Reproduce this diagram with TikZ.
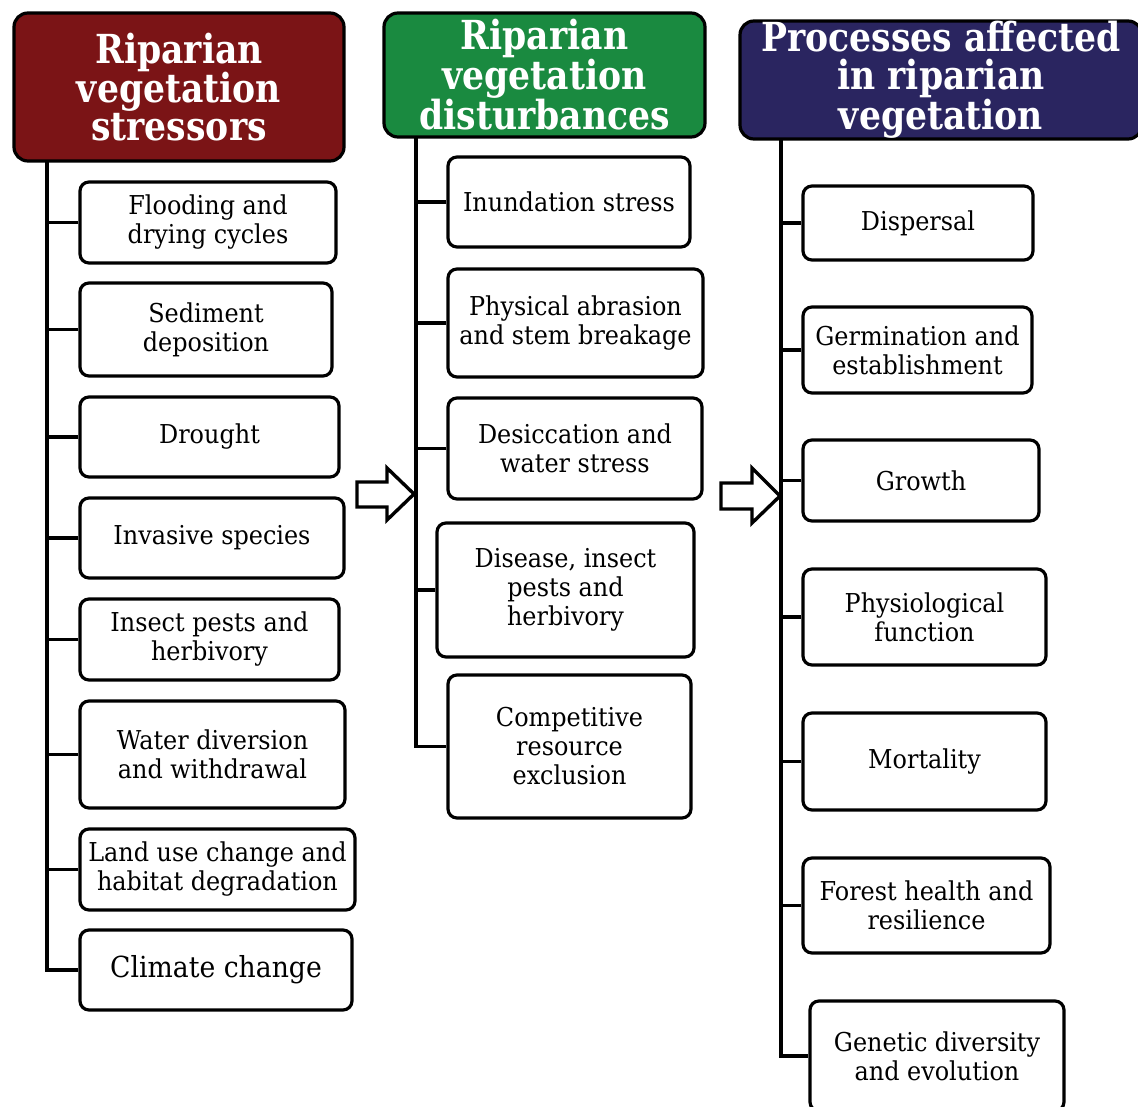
\documentclass[tikz,border=0pt]{standalone}
\usepackage{fontspec}
\setmainfont{DejaVu Serif}[FakeStretch=0.92, BoldFeatures={FakeStretch=0.865}]
\definecolor{hred}{HTML}{7B1416}
\definecolor{hgreen}{HTML}{1A8A40}
\definecolor{hnavy}{HTML}{2A2560}
\begin{document}
\begin{tikzpicture}[x=1pt,y=-1pt,
  box/.style={draw, line width=3.2pt, rounded corners=9pt, fill=white, align=center,
    font=\fontsize{26}{29}\selectfont, inner sep=0pt},
  head/.style={draw, line width=3.2pt, rounded corners=14pt, align=center, text=white,
    font=\fontsize{40}{37.8}\selectfont\bfseries, inner sep=0pt},
  link/.style={line width=3.4pt},
  bigarrow/.style={draw, line width=3.4pt, fill=white, line join=miter}]
\useasboundingbox (0,0) rectangle (1138,1107);

% headers
\node[head, fill=hred, minimum width=330pt, minimum height=148pt] (h1) at (179,87) {Riparian\\vegetation\\stressors};
\node[head, fill=hgreen, minimum width=321pt, minimum height=124pt] (h2) at (544.5,75) {Riparian\\vegetation\\disturbances};
\node[head, fill=hnavy, minimum width=402pt, minimum height=118pt] (h3) at (941,80) {Processes affected\\in riparian\\vegetation};

% column 1
\node[box, minimum width=256pt, minimum height=81pt] (f1) at (208,222.5) {Flooding and\\drying cycles};
\node[box, minimum width=252pt, minimum height=93pt] (f2) at (206,329.5) {Sediment\\deposition};
\node[box, minimum width=259pt, minimum height=80pt] (f3) at (209.5,437) {Drought};
\node[box, minimum width=264pt, minimum height=80pt] (f4) at (212,538) {Invasive species};
\node[box, minimum width=259pt, minimum height=81pt] (f5) at (209.5,639.5) {Insect pests and\\herbivory};
\node[box, minimum width=265pt, minimum height=107pt] (f6) at (212.5,754.5) {Water diversion\\and withdrawal};
\node[box, minimum width=275pt, minimum height=81pt] (f7) at (217.5,869.5) {Land use change and\\habitat degradation};
\node[box, minimum width=272pt, minimum height=80pt, font=\fontsize{29}{32}\selectfont] (f8) at (216,970) {Climate change};

% column 2
\node[box, minimum width=242pt, minimum height=90pt] (d1) at (569,202) {Inundation stress};
\node[box, minimum width=255pt, minimum height=108pt] (d2) at (575.5,323) {Physical abrasion\\and stem breakage};
\node[box, minimum width=254pt, minimum height=101pt] (d3) at (575,448.5) {Desiccation and\\water stress};
\node[box, minimum width=257pt, minimum height=134pt] (d4) at (565.5,590) {Disease, insect\\pests and\\herbivory};
\node[box, minimum width=243pt, minimum height=143pt] (d5) at (569.5,746.5) {Competitive\\resource\\exclusion};

% column 3
\node[box, minimum width=230pt, minimum height=74pt] (p1) at (918,223) {Dispersal};
\node[box, minimum width=229pt, minimum height=86pt] (p2) at (917.5,350) {Germination and\\establishment};
\node[box, minimum width=236pt, minimum height=81pt] (p3) at (921,480.5) {Growth};
\node[box, minimum width=243pt, minimum height=96pt] (p4) at (924.5,617) {Physiological\\function};
\node[box, minimum width=243pt, minimum height=97pt] (p5) at (924.5,761.5) {Mortality};
\node[box, minimum width=247pt, minimum height=95pt] (p6) at (926.5,905.5) {Forest health and\\resilience};
\node[box, minimum width=254pt, minimum height=110pt] (p7) at (937,1056) {Genetic diversity\\and evolution};

% trunks
\coordinate (t1) at (47,161);
\coordinate (t2) at (416,137);
\coordinate (t3) at (781,139);
\draw[link] (t1) |- (f8.west);
\draw[link] (t2) |- (d5.west);
\draw[link] (t3) |- (p7.west);
\foreach \n in {f1,f2,f3,f4,f5,f6,f7} \draw[link] (\n.west) -- (\n.west -| t1);
\foreach \n in {d1,d2,d3,d4} \draw[link] (\n.west) -- (\n.west -| t2);
\foreach \n in {p1,p2,p3,p4,p5,p6} \draw[link] (\n.west) -- (\n.west -| t3);

% block arrows
\draw[bigarrow] (357,482) -- (387,482) -- (387,468) -- (414,494) -- (387,520) -- (387,507) -- (357,507) -- cycle;
\draw[bigarrow] (721,483) -- (752,483) -- (752,468) -- (780,496) -- (752,523) -- (752,509) -- (721,509) -- cycle;
\end{tikzpicture}
\end{document}
